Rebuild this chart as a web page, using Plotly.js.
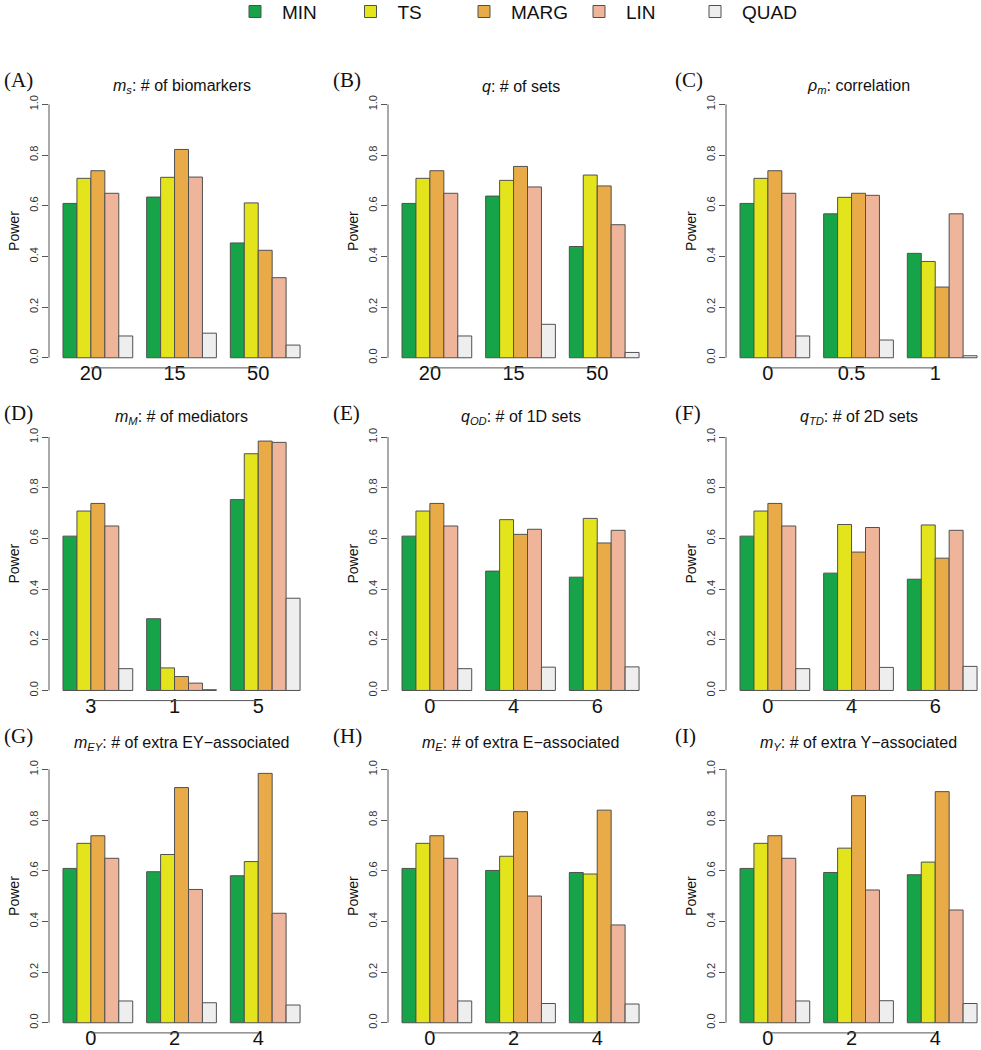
<!DOCTYPE html>
<html>
<head>
<meta charset="utf-8">
<script src="https://cdn.plot.ly/plotly-3.0.1.min.js"></script>
<style>
  html, body { margin: 0; padding: 0; background: #ffffff; }
  #chart { width: 981px; height: 1050px; }
</style>
</head>
<body>
<div id="chart"></div>
<script>
// ---------------- data ----------------
const seriesNames = ['MIN', 'TS', 'MARG', 'LIN', 'QUAD'];
const seriesColors = ['#17a448', '#e3e41c', '#e8ab48', '#efb59b', '#eeeeee'];

const panelLabels = ['(A)', '(B)', '(C)', '(D)', '(E)', '(F)', '(G)', '(H)', '(I)'];
const panelTitles = [
  '<i>m</i><sub><i>s</i></sub>: # of biomarkers',
  '<i>q</i>: # of sets',
  '<i>ρ</i><sub><i>m</i></sub>: correlation',
  '<i>m</i><sub><i>M</i></sub>: # of mediators',
  '<i>q</i><sub><i>OD</i></sub>: # of 1D sets',
  '<i>q</i><sub><i>TD</i></sub>: # of 2D sets',
  '<i>m</i><sub><i>EY</i></sub>: # of extra EY−associated',
  '<i>m</i><sub><i>E</i></sub>: # of extra E−associated',
  '<i>m</i><sub><i>Y</i></sub>: # of extra Y−associated'
];
const categories = [
  ['20', '15', '50'],
  ['20', '15', '50'],
  ['0', '0.5', '1'],
  ['3', '1', '5'],
  ['0', '4', '6'],
  ['0', '4', '6'],
  ['0', '2', '4'],
  ['0', '2', '4'],
  ['0', '2', '4']
];
const MIN = [
  [0.609, 0.634, 0.453], [0.609, 0.638, 0.439], [0.609, 0.568, 0.412],
  [0.609, 0.283, 0.753], [0.609, 0.471, 0.447], [0.609, 0.463, 0.439],
  [0.609, 0.596, 0.580], [0.609, 0.601, 0.593], [0.609, 0.593, 0.584]
];
const TS = [
  [0.708, 0.712, 0.611], [0.708, 0.700, 0.721], [0.708, 0.633, 0.380],
  [0.708, 0.089, 0.934], [0.708, 0.674, 0.679], [0.708, 0.655, 0.653],
  [0.708, 0.664, 0.636], [0.708, 0.657, 0.587], [0.708, 0.689, 0.634]
];
const MARG = [
  [0.738, 0.822, 0.424], [0.738, 0.755, 0.678], [0.738, 0.649, 0.279],
  [0.738, 0.055, 0.984], [0.738, 0.616, 0.582], [0.738, 0.546, 0.522],
  [0.738, 0.928, 0.984], [0.738, 0.833, 0.839], [0.738, 0.896, 0.912]
];
const LIN = [
  [0.649, 0.713, 0.316], [0.649, 0.674, 0.525], [0.649, 0.641, 0.568],
  [0.649, 0.029, 0.979], [0.649, 0.636, 0.632], [0.649, 0.643, 0.632],
  [0.649, 0.526, 0.432], [0.649, 0.500, 0.386], [0.649, 0.524, 0.445]
];
const QUAD = [
  [0.086, 0.097, 0.050], [0.086, 0.132, 0.021], [0.086, 0.070, 0.008],
  [0.086, 0.003, 0.364], [0.086, 0.092, 0.093], [0.086, 0.091, 0.095],
  [0.086, 0.079, 0.070], [0.086, 0.076, 0.074], [0.086, 0.087, 0.076]
];
const yTickVals = [0, 0.2, 0.4, 0.6, 0.8, 1.0];
const yTickText = ['0.0', '0.2', '0.4', '0.6', '0.8', '1.0'];
const yTitle = 'Power';

// ---------------- layout geometry (pixels) ----------------
const W = 981, H = 1050;
const colLeft = [49, 388, 726];          // y-axis line x
const plotW = 253;                        // plot area width
const rowTop = [94.2, 426.9, 759.2];      // plot area top
const plotH = 273.7;                      // plot area height
const labelX = [2, 331, 673];
const labelY = [80, 413, 736];
const titleY = [86, 418, 743];
const legendBoxCenter = [255, 370.5, 484, 599, 715];

const allSeries = [MIN, TS, MARG, LIN, QUAD];
const FONT = 'Liberation Sans, Arial, Helvetica, sans-serif';
const SERIF = 'Liberation Serif, Times New Roman, serif';

const traces = [];
const layout = {
  width: W, height: H,
  margin: {l: 0, r: 0, t: 0, b: 0, autoexpand: false},
  paper_bgcolor: '#ffffff', plot_bgcolor: '#ffffff',
  barmode: 'group', bargap: 1 / 6, bargroupgap: 0,
  showlegend: true,
  font: {family: FONT, color: '#111111'},
  annotations: [], shapes: []
};

const legendIds = seriesNames.map((_, s) => s === 0 ? 'legend' : 'legend' + (s + 1));
legendIds.forEach((id, s) => {
  layout[id] = {
    orientation: 'h', x: (legendBoxCenter[s] - 27) / W, xanchor: 'left',
    y: 1.007, yanchor: 'top',
    font: {family: FONT, size: 19, color: '#111111'},
    itemwidth: 44, bgcolor: 'rgba(0,0,0,0)', borderwidth: 0
  };
});

for (let p = 0; p < 9; p++) {
  const r = Math.floor(p / 3), c = p % 3;
  const sfx = p === 0 ? '' : String(p + 1);
  const xa = 'x' + sfx, ya = 'y' + sfx;
  const cats = categories[p];
  const xpos = cats.map((_, i) => i);

  for (let s = 0; s < seriesNames.length; s++) {
    traces.push({
      type: 'bar', name: seriesNames[s], x: xpos, y: allSeries[s][p],
      xaxis: xa, yaxis: ya, textposition: 'none',
      marker: {color: seriesColors[s], line: {color: '#505050', width: 1}},
      showlegend: p === 0, legend: legendIds[s], legendgroup: seriesNames[s]
    });
  }

  const x0 = colLeft[c] / W, x1 = (colLeft[c] + plotW) / W;
  const yTopPx = rowTop[r], yBotPx = rowTop[r] + plotH;
  layout['xaxis' + sfx] = {
    domain: [x0, x1], anchor: ya, range: [-0.584, 2.44],
    showgrid: false, zeroline: false, showline: false, ticks: '',
    tickmode: 'array', tickvals: xpos.map(v => v - 1 / 12), ticktext: cats,
    tickfont: {family: FONT, size: 20, color: '#111111'},
    ticklabelstandoff: -9, fixedrange: true, automargin: false
  };
  layout['yaxis' + sfx] = {
    domain: [1 - yBotPx / H, 1 - yTopPx / H], anchor: xa, range: [-0.04, 1.04],
    showgrid: false, zeroline: false, showline: false,
    ticks: 'outside', ticklen: 6, tickwidth: 1, tickcolor: '#555555',
    tickmode: 'array', tickvals: yTickVals, ticktext: yTickText, tickangle: -90,
    tickfont: {family: FONT, size: 11, color: '#333333'},
    title: {text: yTitle, font: {family: FONT, size: 14, color: '#111111'}, standoff: 4},
    fixedrange: true, automargin: false
  };
  // x axis line (from first to last tick)
  layout.shapes.push({
    type: 'line', xref: xa, yref: ya + ' domain',
    x0: -1 / 12, x1: 2 - 1 / 12, y0: 0, y1: 0,
    line: {color: '#555555', width: 1}
  });
  // y axis line (from 0 to 1)
  layout.shapes.push({
    type: 'line', xref: xa + ' domain', yref: ya,
    x0: 0, x1: 0, y0: 0, y1: 1,
    line: {color: '#555555', width: 1}
  });
  layout.annotations.push({
    text: panelLabels[p], xref: 'paper', yref: 'paper',
    x: labelX[c] / W, y: 1 - labelY[r] / H, xanchor: 'left', yanchor: 'middle',
    showarrow: false, font: {family: SERIF, size: 21, color: '#111111'}
  });
  layout.annotations.push({
    text: panelTitles[p], xref: xa, yref: 'paper',
    x: 1, y: 1 - titleY[r] / H, xanchor: 'center', yanchor: 'middle',
    showarrow: false, font: {family: FONT, size: 16, color: '#111111'}
  });
}

Plotly.newPlot('chart', traces, layout, {displayModeBar: false, staticPlot: true});
</script>
</body>
</html>
